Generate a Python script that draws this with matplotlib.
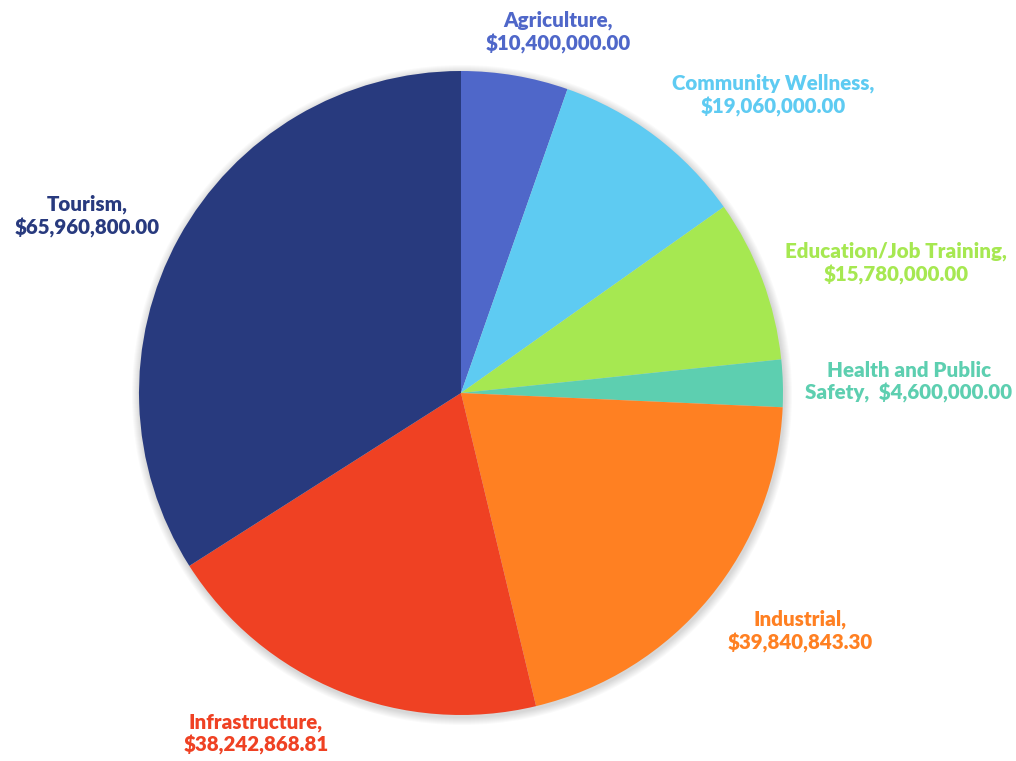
import matplotlib.pyplot as plt
from matplotlib.patches import Circle

categories = ['Agriculture', 'Community Wellness', 'Education/Job Training',
              'Health and Public\nSafety, ', 'Industrial', 'Infrastructure', 'Tourism']
amounts = [10400000.00, 19060000.00, 15780000.00, 4600000.00,
           39840843.30, 38242868.81, 65960800.00]
colors = ['#4F67C9', '#5ECBF2', '#A6E851', '#5DCFB0', '#FF8022', '#EF4123', '#283A7E']

# label centres in pixel coords (top-left origin)
label_pos = [(558, 32), (773, 95), (896, 263), (909, 382),
             (800, 631), (256, 734), (87, 216)]

W, H = 1016, 761
cx, cy, r = 461, 393, 322

fig = plt.figure(figsize=(W / 100, H / 100), dpi=100)
ax = fig.add_axes([0, 0, 1, 1])
ax.set_xlim(0, W)
ax.set_ylim(0, H)
ax.axis('off')

# soft shadow round the pie
for k in range(1, 9):
  ax.add_patch(Circle((cx + 1, H - cy - 2), r + k, color='black', alpha=0.018, lw=0))

ax.pie(amounts, colors=colors, startangle=90, counterclock=False,
       center=(cx, H - cy), radius=r, wedgeprops={'linewidth': 0})
ax.set_xlim(0, W)
ax.set_ylim(0, H)
ax.set_aspect('equal')

for name, val, col, (x, y) in zip(categories, amounts, colors, label_pos):
  if name.endswith(', '):
    txt = name + ' ${:,.2f}'.format(val)
  else:
    txt = name + ',\n${:,.2f}'.format(val)
  ax.text(x, H - y, txt, ha='center', va='center', color=col,
          fontsize=14.8, fontweight='heavy', family='Lato', linespacing=1.22)

fig.savefig('out.png', dpi=100)
